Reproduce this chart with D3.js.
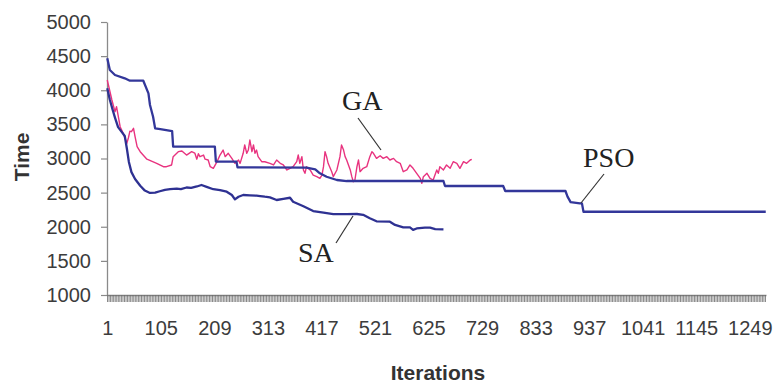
<!DOCTYPE html>
<html>
<head>
<meta charset="utf-8">
<script src="https://cdn.jsdelivr.net/npm/d3@7"></script>
<style>
  html, body { margin: 0; padding: 0; background: #fff; }
  svg { display: block; }
  .tick text { font-family: "Liberation Sans", Arial, sans-serif; }
</style>
</head>
<body>
<svg id="chart" width="775" height="383"></svg>
<script>
// Iteration count on the category axis and its labelled positions
const iterationCount = 1280;
const iterationLabels = [1, 105, 209, 313, 417, 521, 625, 729, 833, 937, 1041, 1145, 1249];
const timeTicks = [1000, 1500, 2000, 2500, 3000, 3500, 4000, 4500, 5000];

// PSO: best time per iteration (stepwise, listed at its change points)
const psoIter = [1, 6, 16, 35, 45, 71, 81, 84, 90, 94, 104, 127, 129, 210, 212, 252, 254, 388, 405, 414, 427, 447, 466, 654, 657, 770, 774, 891, 895, 901, 919, 923, 926, 1280];
const psoTime = [4470, 4296, 4223, 4175, 4140, 4140, 3955, 3784, 3612, 3442, 3430, 3400, 3173, 3173, 2953, 2953, 2871, 2866, 2842, 2783, 2733, 2685, 2670, 2670, 2597, 2597, 2524, 2524, 2441, 2360, 2343, 2343, 2220, 2220];

// SA: time per iteration
const saIter = [1, 6, 12, 16, 22, 29, 35, 39, 43, 48, 55, 65, 74, 84, 94, 103, 113, 123, 136, 144, 155, 164, 175, 184, 194, 207, 220, 233, 243, 249, 256, 265, 278, 291, 298, 307, 317, 330, 343, 356, 362, 382, 401, 421, 440, 466, 486, 498, 511, 524, 550, 560, 576, 589, 595, 602, 618, 628, 638, 654];
const saTime = [4030, 3860, 3700, 3600, 3460, 3390, 3330, 3150, 2950, 2800, 2700, 2600, 2530, 2495, 2500, 2520, 2540, 2550, 2560, 2550, 2575, 2570, 2590, 2612, 2585, 2550, 2538, 2514, 2465, 2402, 2440, 2465, 2460, 2455, 2450, 2440, 2431, 2392, 2410, 2425, 2367, 2300, 2230, 2206, 2185, 2185, 2187, 2175, 2124, 2080, 2074, 2026, 1990, 1990, 1955, 1975, 1986, 1986, 1965, 1962];

// GA: time per iteration
const gaIter = [1, 10, 16, 19, 22, 26, 32, 39, 42, 45, 48, 52, 55, 59, 65, 78, 97, 110, 116, 126, 129, 139, 146, 155, 165, 171, 175, 178, 181, 188, 191, 197, 201, 207, 214, 220, 226, 230, 236, 243, 249, 256, 259, 265, 268, 272, 275, 278, 282, 285, 288, 291, 294, 301, 307, 317, 324, 330, 337, 343, 350, 356, 362, 369, 372, 375, 379, 382, 385, 388, 395, 401, 408, 414, 418, 421, 424, 427, 430, 437, 440, 447, 453, 456, 460, 463, 466, 473, 476, 479, 482, 486, 489, 492, 498, 505, 511, 515, 518, 524, 531, 537, 544, 550, 557, 563, 570, 576, 583, 589, 595, 602, 609, 612, 615, 622, 628, 634, 641, 644, 647, 654, 660, 667, 673, 680, 686, 693, 699, 706, 709];
const gaTime = [4150, 3857, 3686, 3759, 3637, 3466, 3369, 3222, 3300, 3400, 3393, 3442, 3320, 3173, 3100, 2990, 2929, 2880, 2880, 2905, 3027, 3100, 3110, 3050, 3100, 3080, 2990, 3070, 3027, 3051, 2990, 2978, 2880, 2856, 2950, 3051, 3124, 3027, 3076, 3002, 2929, 2978, 2929, 3076, 3198, 3076, 3124, 3271, 3100, 3198, 3076, 3124, 3027, 2953, 2953, 2929, 2905, 2978, 2929, 2905, 2832, 2856, 2880, 2953, 3051, 2929, 3027, 2832, 2783, 2880, 2832, 2758, 2734, 2709, 2758, 2880, 3100, 3027, 2929, 2807, 2734, 2832, 3027, 3198, 3124, 3027, 2978, 2832, 2734, 2660, 2685, 2880, 2978, 2807, 2856, 2880, 3027, 3100, 3076, 3002, 3040, 3002, 3027, 2978, 3002, 2953, 2929, 2807, 2832, 2905, 2856, 2783, 2709, 2636, 2734, 2783, 2709, 2685, 2832, 2783, 2880, 2832, 2905, 2856, 2953, 2929, 2856, 2953, 2929, 2978, 2988];

const svg = d3.select("#chart");
const plotLeft = 107, plotRight = 766, plotTop = 22, plotBottom = 295;

const x = d3.scaleLinear().domain([0.5, iterationCount + 0.5]).range([plotLeft, plotRight]);
const y = d3.scaleLinear().domain([1000, 5000]).range([plotBottom, plotTop]);

const axisColor = "#8a8a8a";
const labelColor = "#3c3c3c";

// Y axis
const yAxis = svg.append("g")
  .attr("transform", `translate(${plotLeft},0)`)
  .call(d3.axisLeft(y).tickValues(timeTicks).tickFormat(d3.format("d"))
    .tickSize(6).tickSizeOuter(0).tickPadding(10));
yAxis.select(".domain").attr("stroke", axisColor).attr("stroke-width", 1.3);
yAxis.selectAll(".tick line").attr("stroke", axisColor).attr("stroke-width", 1.2);
yAxis.selectAll(".tick text").attr("fill", labelColor).attr("font-size", 20);

// X axis: fine tick marks along the whole iteration range
const boundaries = d3.range(0, iterationCount + 1, 3).map(i => i + 0.5);
const xTicks = svg.append("g")
  .attr("transform", `translate(0,${plotBottom})`)
  .call(d3.axisBottom(x).tickValues(boundaries).tickFormat("").tickSize(7).tickSizeOuter(0));
xTicks.select(".domain").attr("stroke", axisColor).attr("stroke-width", 1.3);
xTicks.selectAll(".tick line").attr("stroke", "#6a6a6a").attr("stroke-width", 0.8);

// X axis labels
const xLabels = svg.append("g")
  .attr("transform", `translate(0,${plotBottom})`)
  .call(d3.axisBottom(x).tickValues(iterationLabels).tickFormat(d3.format("d"))
    .tickSize(0).tickPadding(26));
xLabels.select(".domain").remove();
xLabels.selectAll(".tick text").attr("fill", labelColor).attr("font-size", 20);

// Axis titles
svg.append("text")
  .attr("transform", "translate(29,157) rotate(-90)")
  .attr("text-anchor", "middle")
  .attr("font-family", "Liberation Sans, Arial, sans-serif")
  .attr("font-weight", "bold")
  .attr("font-size", 21)
  .attr("fill", "#333")
  .text("Time");

svg.append("text")
  .attr("x", 438).attr("y", 380)
  .attr("text-anchor", "middle")
  .attr("font-family", "Liberation Sans, Arial, sans-serif")
  .attr("font-weight", "bold")
  .attr("font-size", 21)
  .attr("fill", "#333")
  .text("Iterations");

// Series lines
const line = d3.line().x(d => x(d[0])).y(d => y(d[1]));
const zip = (a, b) => a.map((v, i) => [v, b[i]]);

svg.append("path")
  .datum(zip(gaIter, gaTime))
  .attr("d", line)
  .attr("fill", "none")
  .attr("stroke", "#e8337f")
  .attr("stroke-width", 1.4)
  .attr("stroke-linejoin", "round");

svg.append("path")
  .datum(zip(saIter, saTime))
  .attr("d", line)
  .attr("fill", "none")
  .attr("stroke", "#2e3192")
  .attr("stroke-width", 2.3)
  .attr("stroke-linejoin", "round");

svg.append("path")
  .datum(zip(psoIter, psoTime))
  .attr("d", line)
  .attr("fill", "none")
  .attr("stroke", "#33379a")
  .attr("stroke-width", 2.3)
  .attr("stroke-linejoin", "round");

// Series annotations with leader lines
const notes = [
  { name: "GA",  tx: 342, ty: 110, x1: 358, y1: 118, x2: 381, y2: 150 },
  { name: "SA",  tx: 298, ty: 262, x1: 336, y1: 243, x2: 353, y2: 216 },
  { name: "PSO", tx: 583, ty: 167, x1: 604, y1: 174, x2: 581, y2: 203 }
];
notes.forEach(n => {
  svg.append("line")
    .attr("x1", n.x1).attr("y1", n.y1).attr("x2", n.x2).attr("y2", n.y2)
    .attr("stroke", "#333").attr("stroke-width", 1.2);
  svg.append("text")
    .attr("x", n.tx).attr("y", n.ty)
    .attr("font-family", "Liberation Serif, Times New Roman, serif")
    .attr("font-size", 28)
    .attr("fill", "#222")
    .text(n.name);
});
</script>
</body>
</html>
